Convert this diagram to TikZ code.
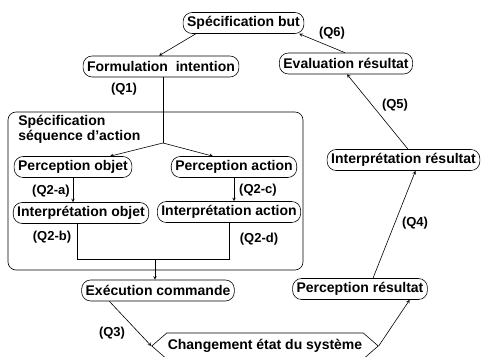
\documentclass[tikz,border=0pt]{standalone}
\usepackage{fontspec}
\setmainfont{Liberation Sans}
\usetikzlibrary{shapes.symbols}

\begin{document}
\begin{tikzpicture}[x=1pt,y=1pt,>=stealth,line width=0.6pt]
\tikzstyle{etape}=[draw,rectangle,rounded corners=9pt,inner xsep=4pt,inner ysep=2pt,minimum height=21pt,font=\fontsize{14}{16}\selectfont\bfseries]
\tikzstyle{question}=[font=\fontsize{13}{15}\selectfont\bfseries]
\tikzstyle{etat}=[draw,signal,signal to=west and east,signal pointer angle=82,inner xsep=1pt,minimum height=26pt,font=\fontsize{14}{16}\selectfont\bfseries]

\useasboundingbox (0,0) rectangle (481,356);
\draw[rounded corners=8pt] (8,86) rectangle (303,244);
\node[anchor=north west,align=left,inner sep=0pt,font=\fontsize{14}{15}\selectfont\bfseries] (seq) at (18,241) {Spécification\\séquence d'action};

\node[etape] (but) at (243.5,333) {Spécification but};
\node[etape] (formul) at (161,289.5) {Formulation\ \ intention};
\node[etape] (eval) at (346,292.5) {Evaluation résultat};
\node[etape] (pobj) at (73,189) {Perception objet};
\node[etape] (pact) at (234,189) {Perception action};
\node[etape] (iobj) at (81,143) {Interprétation objet};
\node[etape] (iact) at (229,144) {Interprétation action};
\node[etape] (ires) at (403.5,196) {Interprétation résultat};
\node[etape] (pres) at (360,67) {Perception résultat};
\node[etape] (exec) at (158,65.5) {Exécution commande};
\node[etat] (chg) at (265,10) {Changement état du système};

\node[question] (q1) at (124,267) {(Q1)};
\node[question] (q2a) at (51,165) {(Q2-a)};
\node[question] (q2b) at (52,119) {(Q2-b)};
\node[question] (q2c) at (258,166) {(Q2-c)};
\node[question] (q2d) at (259,117) {(Q2-d)};
\node[question] (q3) at (112,23) {(Q3)};
\node[question] (q4) at (415,133) {(Q4)};
\node[question] (q5) at (395,251) {(Q5)};
\node[question] (q6) at (332,323) {(Q6)};

\coordinate (split) at (163,213);
\coordinate (join) at (155,97);

\draw[->] ([xshift=13pt]but.south west) -- ([xshift=-2pt]formul.north);
\draw (split |- formul.south) -- (split);
\draw[->] (split) -- ([xshift=37pt]pobj.north);
\draw[->] (split) -- ([xshift=-21pt]pact.north);
\draw[->] (pobj.south) -- (pobj.south |- iobj.north);
\draw[->] (pact.south) -- (pact.south |- iact.north);
\draw ([xshift=-4pt]iobj.south) |- (join -| iact.south) -- (iact.south);
\draw[->] (join) -- (join |- exec.north);
\draw[->] ([xshift=28pt]exec.south west) -- (chg.west);
\draw[->] (chg.east) -- ([xshift=-18pt]pres.south east);
\draw[->] ([xshift=13pt]pres.north) -- ([xshift=12pt]ires.south);
\draw[->] ([xshift=4.5pt]ires.north) -- ([xshift=1pt]eval.south);
\draw[->] ([xshift=-1pt]eval.north) -- ([xshift=-5pt]but.south east);
\end{tikzpicture}
\end{document}
